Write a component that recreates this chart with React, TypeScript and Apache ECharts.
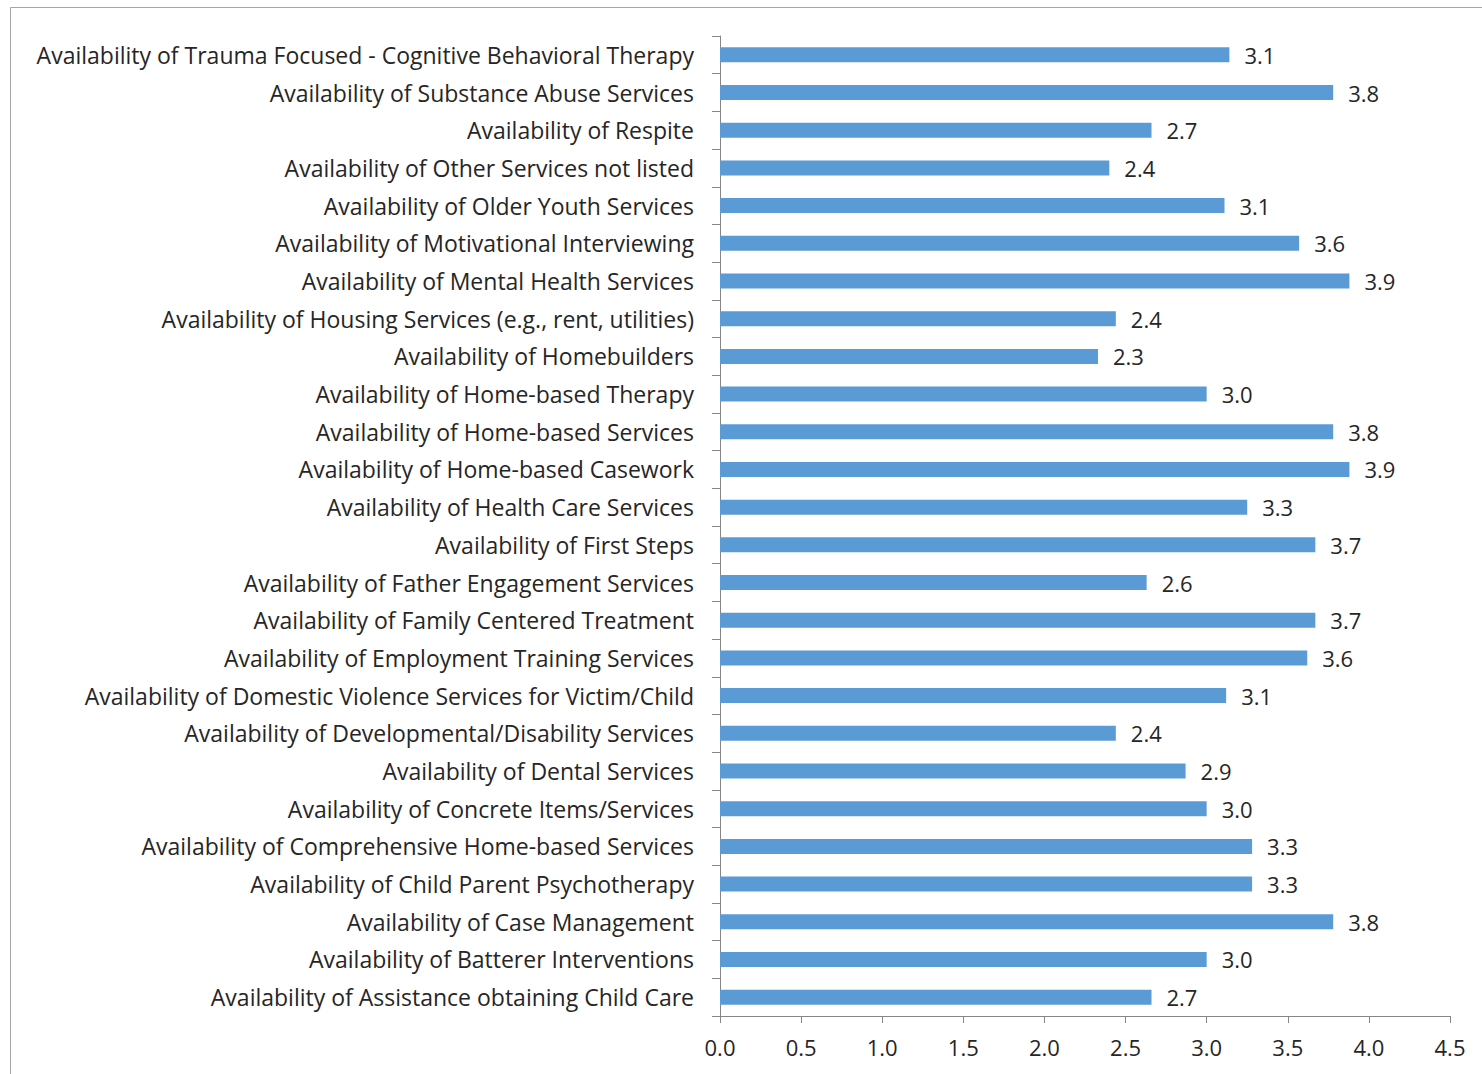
import React, { useEffect, useRef } from "react";
import * as echarts from "echarts";

const categories = [
  "Availability of Trauma Focused - Cognitive Behavioral Therapy",
  "Availability of Substance Abuse Services",
  "Availability of Respite",
  "Availability of Other Services not listed",
  "Availability of Older Youth Services",
  "Availability of Motivational Interviewing",
  "Availability of Mental Health Services",
  "Availability of Housing Services (e.g., rent, utilities)",
  "Availability of Homebuilders",
  "Availability of Home-based Therapy",
  "Availability of Home-based Services",
  "Availability of Home-based Casework",
  "Availability of Health Care Services",
  "Availability of First Steps",
  "Availability of Father Engagement Services",
  "Availability of Family Centered Treatment",
  "Availability of Employment Training Services",
  "Availability of Domestic Violence Services for Victim/Child",
  "Availability of Developmental/Disability Services",
  "Availability of Dental Services",
  "Availability of Concrete Items/Services",
  "Availability of Comprehensive Home-based Services",
  "Availability of Child Parent Psychotherapy",
  "Availability of Case Management",
  "Availability of Batterer Interventions",
  "Availability of Assistance obtaining Child Care",
];

const values = [
  3.14, 3.78, 2.66, 2.4, 3.11, 3.57, 3.88, 2.44, 2.33, 3.0, 3.78, 3.88, 3.25,
  3.67, 2.63, 3.67, 3.62, 3.12, 2.44, 2.87, 3.0, 3.28, 3.28, 3.78, 3.0, 2.66,
];

const xMin = 0;
const xMax = 4.5;
const xStep = 0.5;

export default function App() {
  const ref = useRef<HTMLDivElement>(null);
  useEffect(() => {
    if (!ref.current) return;
    const chart = echarts.init(ref.current, null, { renderer: "svg" });
    const font = "'Open Sans', Lato, sans-serif";
    chart.setOption({
      animation: false,
      backgroundColor: "#ffffff",
      graphic: [
        {
          type: "rect",
          shape: { x: 10.5, y: 7.5, width: 1500, height: 1100 },
          style: { fill: "none", stroke: "#a6a6a6", lineWidth: 1 },
          silent: true,
        },
      ],
      grid: { left: 720, right: 32, top: 36, bottom: 58 },
      xAxis: {
        type: "value",
        min: xMin,
        max: xMax,
        interval: xStep,
        axisLine: { show: true, lineStyle: { color: "#868686" } },
        axisTick: { show: true, length: 7, lineStyle: { color: "#868686" } },
        splitLine: { show: false },
        axisLabel: {
          margin: 20,
          fontFamily: font,
          fontSize: 22,
          color: "#262626",
          formatter: (v: number) => v.toFixed(1),
        },
      },
      yAxis: {
        type: "category",
        data: categories,
        inverse: true,
        axisLine: { show: true, lineStyle: { color: "#868686" } },
        axisTick: { show: true, length: 8, lineStyle: { color: "#868686" } },
        axisLabel: {
          margin: 26,
          fontFamily: font,
          fontSize: 23,
          color: "#262626",
        },
      },
      series: [
        {
          type: "bar",
          data: values,
          barWidth: 15,
          itemStyle: { color: "#5b9bd5" },
          label: {
            show: true,
            position: "right",
            distance: 15,
            fontFamily: font,
            fontSize: 22,
            color: "#262626",
            formatter: (p: any) => Number(p.value).toFixed(1),
          },
        },
      ],
    });
    return () => chart.dispose();
  }, []);
  return (
    <div
      ref={ref}
      style={{ position: "fixed", left: 0, top: 0, width: 1482, height: 1074 }}
    />
  );
}
